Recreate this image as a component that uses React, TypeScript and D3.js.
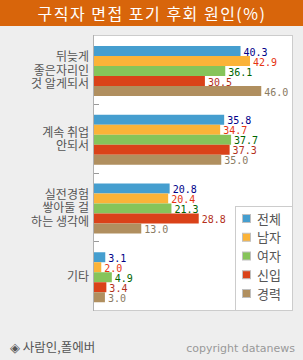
import * as d3 from 'd3';
import React from 'react';

const categories = ['뒤늦게\n좋은자리인\n것 알게되서', '계속 취업\n안되서', '실전경험\n쌓아둘 걸\n하는 생각에', '기타'];
const seriesNames = ['전체', '남자', '여자', '신입', '경력'];
const total = [40.3, 35.8, 20.8, 3.1];
const male = [42.9, 34.7, 20.4, 2.0];
const female = [36.1, 37.7, 21.3, 4.9];
const newcomer = [30.5, 37.3, 28.8, 3.4];
const career = [46.0, 35.0, 13.0, 3.0];
const seriesValues = [total, male, female, newcomer, career];

const barColors = ['#459ecf', '#fbb338', '#86c45a', '#da4219', '#b08f5f'];
const labelColors = ['#000088', '#e63312', '#006400', '#b3301a', '#8a7a62'];

const width = 303;
const height = 360;
const plot = { left: 93, top: 35, right: 292, bottom: 310 };

export default function App() {
    const x = d3.scaleLinear().domain([0, 55]).range([plot.left + 1, plot.left + 1 + 55 * 3.636]);
    const y = d3.scaleBand().domain(categories).range([plot.top, plot.bottom]);
    const inner = d3.scaleBand().domain(seriesNames).range([11, 61]);

    const legendX = 235;
    const legendTop = 206;

    return (
        <svg width={width} height={height} style={{ position: 'absolute', left: 0, top: 0 }}>
            <rect x={0} y={0} width={width} height={height} fill="#eeeeee" />
            {/* title bar */}
            <rect x={0} y={0} width={width} height={26} fill="#d8650b" />
            <text x={152} y={19.5} textAnchor="middle" fill="#ffffff" fontSize={16}
                fontFamily="'Noto Sans CJK KR', sans-serif" letterSpacing={1.5}>
                구직자 면접 포기 후회 원인(%)
            </text>

            {/* plot box */}
            <rect x={plot.left + 0.5} y={plot.top + 0.5} width={plot.right - plot.left} height={plot.bottom - plot.top}
                fill="#ffffff" stroke="#cccccc" />
            <line x1={plot.left + 0.5} x2={plot.left + 0.5} y1={plot.top} y2={plot.bottom + 1} stroke="#b0b0b0" />

            {categories.slice(1).map((c) => (
                <line key={c} x1={plot.left + 1} x2={plot.left + 6} y1={Math.round(y(c)) + 0.5} y2={Math.round(y(c)) + 0.5} stroke="#999999" />
            ))}

            {/* category labels */}
            {categories.map((c) => {
                const lines = c.split('\n');
                const cy = y(c) + y.bandwidth() / 2 + 1;
                const lh = 13.5;
                return (
                    <text key={c} textAnchor="end" fill="#555555" fontSize={12}
                        fontFamily="'Noto Sans CJK KR', sans-serif">
                        {lines.map((l, i) => (
                            <tspan key={i} x={89} y={cy + (i - (lines.length - 1) / 2) * lh + 4.5}>{l}</tspan>
                        ))}
                    </text>
                );
            })}

            {/* bars */}
            {seriesNames.map((s, si) => (
                <g key={s}>
                    {categories.map((c, ci) => {
                        const v = seriesValues[si][ci];
                        const by = y(c) + inner(s);
                        return (
                            <g key={c}>
                                <rect x={x(0)} y={by} width={x(v) - x(0)} height={inner.bandwidth()} fill={barColors[si]} />
                                <text x={x(v) + 3} y={by + inner.bandwidth() - 0.5} fill={labelColors[si]} fontSize={10}
                                    fontFamily="'DejaVu Sans Mono', monospace">
                                    {v.toFixed(1)}
                                </text>
                            </g>
                        );
                    })}
                </g>
            ))}

            {/* legend */}
            <rect x={legendX + 0.5} y={legendTop + 0.5} width={plot.right - legendX} height={plot.bottom - legendTop}
                fill="#ffffff" stroke="#cccccc" />
            {seriesNames.map((s, i) => {
                const cy = legendTop + 13 + i * 18.75;
                return (
                    <g key={s}>
                        <rect x={242.5} y={cy - 4.5} width={8} height={8} fill={barColors[i]} stroke="#c0c0c0" />
                        <text x={257} y={cy + 4.5} fill="#555555" fontSize={13} fontFamily="'Noto Sans CJK KR', sans-serif">{s}</text>
                    </g>
                );
            })}

            {/* footer */}
            <text x={10} y={352} fill="#555555" fontSize={12.5} fontFamily="'Noto Sans CJK KR', sans-serif">◈ 사람인,폴에버</text>
            <text x={295} y={352} textAnchor="end" fill="#999999" fontSize={11} fontFamily="'DejaVu Sans', sans-serif">copyright datanews</text>
        </svg>
    );
}
